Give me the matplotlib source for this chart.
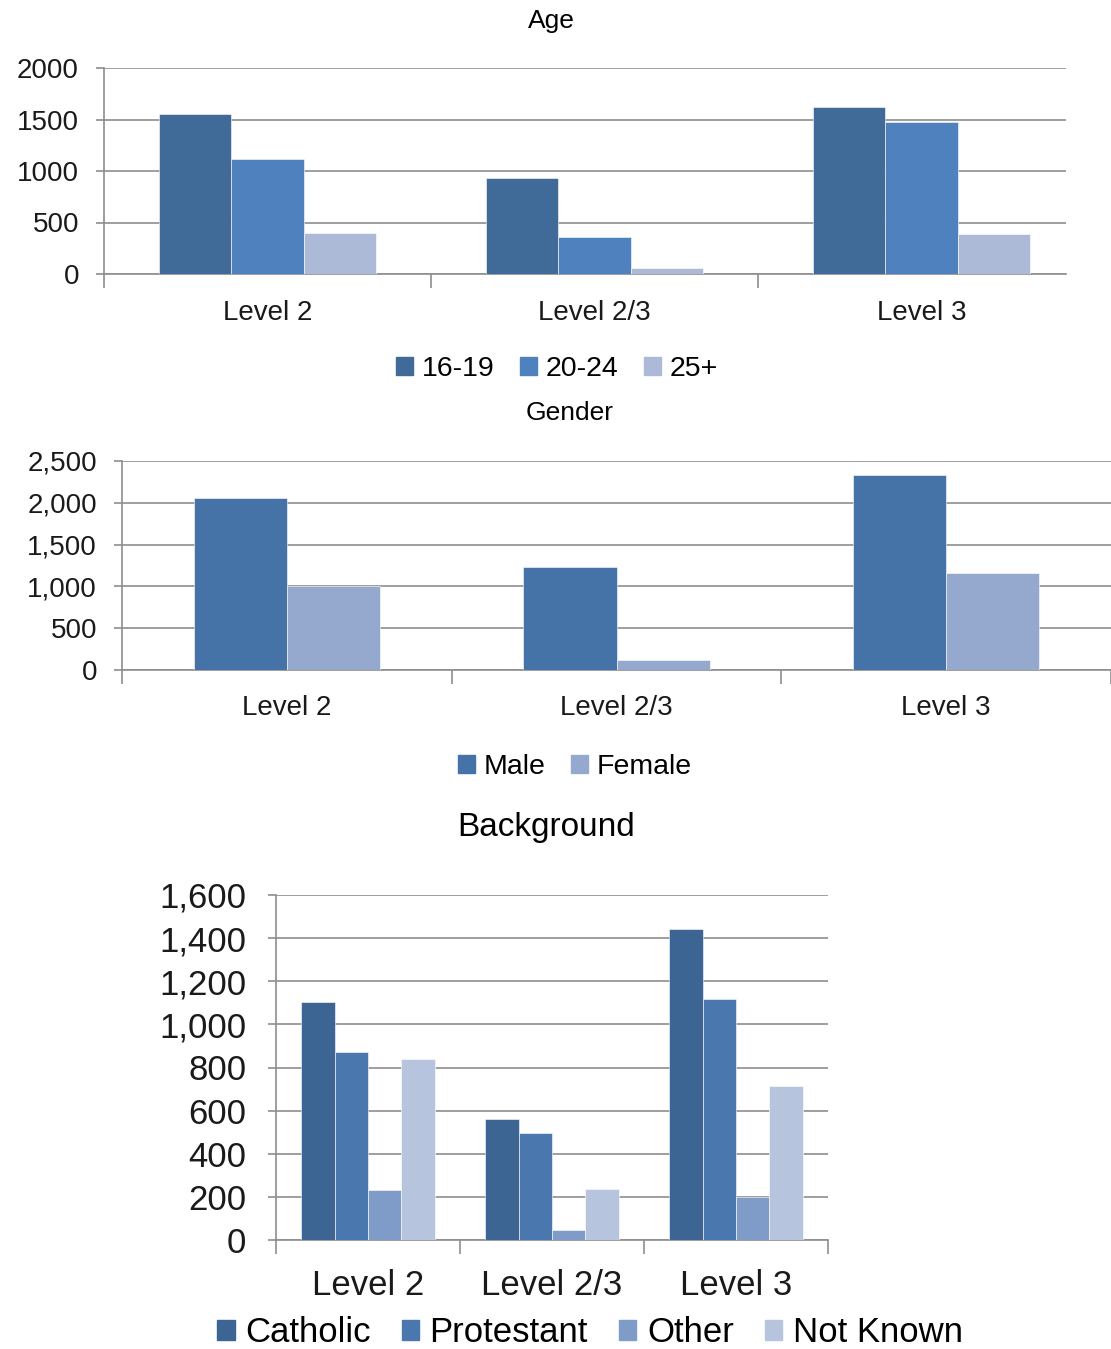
import matplotlib
matplotlib.use("Agg")
import matplotlib.pyplot as plt
from matplotlib.patches import Patch
import numpy as np

levels = ["Level 2", "Level 2/3", "Level 3"]

# Age breakdown
age_groups = ["16-19", "20-24", "25+"]
age_16_19 = [1555, 930, 1625]
age_20_24 = [1120, 362, 1478]
age_25_plus = [400, 60, 388]
age_colors = ["#406A98", "#4E81BD", "#ACB9D7"]

# Gender breakdown
genders = ["Male", "Female"]
male = [2057, 1233, 2332]
female = [1003, 120, 1158]
gender_colors = ["#4573A7", "#95A9CE"]

# Background breakdown
backgrounds = ["Catholic", "Protestant", "Other", "Not Known"]
catholic = [1105, 563, 1442]
protestant = [873, 497, 1119]
other = [232, 46, 200]
not_known = [840, 238, 715]
background_colors = ["#3D6594", "#4A78AE", "#7F9CC8", "#B6C4DE"]

W, H = 1111, 1349
fig = plt.figure(figsize=(W / 100, H / 100), dpi=100)
GRID = "#8E8E8E"
FONT = ["Liberation Sans", "DejaVu Sans"]


def px_axes(left, top, right, bottom):
    return fig.add_axes([left / W, 1 - bottom / H, (right - left) / W, (bottom - top) / H])


def style_axes(ax, fontsize, ypad, xpad):
    for s in ["top", "right"]:
        ax.spines[s].set_visible(False)
    for s in ["left", "bottom"]:
        ax.spines[s].set_color(GRID)
        ax.spines[s].set_linewidth(1.2)
    ax.yaxis.grid(True, color=GRID, linewidth=1.2)
    ax.set_axisbelow(True)
    ax.tick_params(axis="y", length=6, color=GRID, width=1.2, pad=ypad,
                   labelsize=fontsize, labelcolor="#1a1a1a")
    ax.tick_params(axis="x", which="major", length=0, pad=xpad,
                   labelsize=fontsize, labelcolor="#1a1a1a")
    ax.tick_params(axis="x", which="minor", length=10, color=GRID, width=1.2)
    for lab in ax.get_xticklabels() + ax.get_yticklabels():
        lab.set_family(FONT)


def grouped(ax, series, colors, width, xmax):
    n = len(series)
    x = np.arange(len(levels))
    for i, (vals, c) in enumerate(zip(series, colors)):
        ax.bar(x + (i - (n - 1) / 2) * width, vals, width, color=c,
               edgecolor="white", linewidth=0.4, zorder=3)
    ax.set_xlim(-0.5, xmax)
    ax.set_xticks(x)
    ax.set_xticklabels(levels)
    ax.set_xticks(np.arange(-0.5, xmax + 0.01, 1.0), minor=True)


def legend(handles_colors, labels, cx, cy, size, hl, cs):
    fig.legend([Patch(color=c) for c in handles_colors], labels, loc="center",
               bbox_to_anchor=(cx / W, 1 - cy / H), ncol=len(labels), frameon=False,
               prop={"family": FONT, "size": size}, handlelength=hl, handleheight=hl,
               handletextpad=0.3, columnspacing=cs)


# --- Age ---
ax1 = px_axes(104, 68, 1066, 274)
grouped(ax1, [age_16_19, age_20_24, age_25_plus], age_colors, 0.221, -0.5 + 962 / 327)
ax1.set_ylim(0, 2000)
ax1.set_yticks([0, 500, 1000, 1500, 2000])
ax1.set_yticklabels(["0", "500", "1000", "1500", "2000"])
style_axes(ax1, 20, 12, 18.5)
fig.text(551 / W, 1 - 21 / H, "Age", ha="center", va="center", fontsize=19, family=FONT)
legend(age_colors, age_groups, 557, 369, 20.5, 0.6, 0.9)

# --- Gender ---
ax2 = px_axes(122, 461, 1111, 670)
grouped(ax2, [male, female], gender_colors, 0.283, 2.5)
ax2.set_ylim(0, 2500)
ax2.set_yticks([0, 500, 1000, 1500, 2000, 2500])
ax2.set_yticklabels(["0", "500", "1,000", "1,500", "2,000", "2,500"])
style_axes(ax2, 20, 12, 18)
fig.text(570 / W, 1 - 413 / H, "Gender", ha="center", va="center", fontsize=19, family=FONT)
legend(gender_colors, genders, 575, 767, 20.5, 0.6, 0.9)

# --- Background ---
ax3 = px_axes(276, 895, 828, 1240)
grouped(ax3, [catholic, protestant, other, not_known], background_colors, 0.182, 2.5)
ax3.set_ylim(0, 1600)
ax3.set_yticks(range(0, 1601, 200))
ax3.set_yticklabels([f"{v:,}" for v in range(0, 1601, 200)])
style_axes(ax3, 25, 15.5, 21)
fig.text(546 / W, 1 - 827 / H, "Background", ha="center", va="center", fontsize=24, family=FONT)
legend(background_colors, backgrounds, 590, 1333, 25, 0.5, 0.9)

fig.savefig("out.png", dpi=100, facecolor="white")
